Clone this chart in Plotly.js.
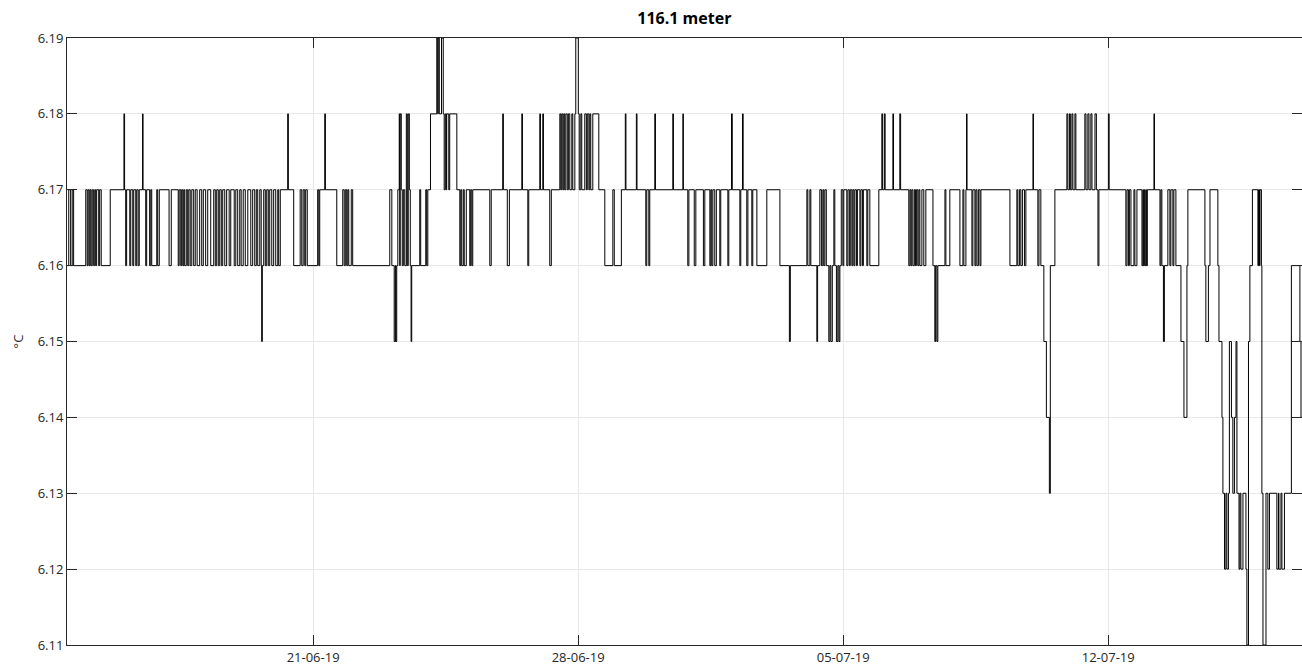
<!DOCTYPE html>
<html>
<head>
<meta charset="utf-8">
<script src="https://cdn.plot.ly/plotly-3.0.1.min.js"></script>
<style>
  html, body { margin: 0; padding: 0; background: #ffffff; }
  #chart { width: 1302px; height: 666px; }
</style>
</head>
<body>
<div id="chart"></div>
<script>
// Series start time (first sample) and step-change records
const startTime = "2019-06-14T12:00:00Z";
const axisStart = "2019-06-14 12:00";
const axisEnd = "2019-07-17 02:50";
const chartTitle = "116.1 meter";
const yTitle = "°C";

// Hours elapsed since startTime at which the temperature changed
const elapsedHours = [
  0, 1.1, 2.3, 3.3, 4.2, 11.9, 12.8, 13.4, 14.1, 14.7, 15.3, 16.0, 16.9, 17.6, 18.2, 18.8, 20.1, 20.7, 21.7, 27.4,
  36.1, 36.5, 37.2, 37.8, 39.8, 40.4, 41.7, 42.3, 43.6, 44.2, 45.1, 45.8, 47.9, 48.2, 49.9, 50.5, 52.4, 53.1, 53.7, 56.9,
  57.5, 58.5, 64.7, 66.1, 70.5, 71.1, 72.1, 72.7, 73.4, 74.0, 74.6, 75.6, 76.5, 77.2, 78.1, 79.1, 80.3, 81.3, 82.5, 84.1,
  85.4, 86.4, 87.9, 89.2, 91.1, 93.0, 94.0, 94.9, 95.9, 96.8, 97.8, 98.7, 100.0, 101.2, 102.8, 103.8, 106.0, 107.0, 108.2, 109.5,
  110.4, 111.7, 113.0, 114.6, 116.5, 117.7, 119.0, 120.0, 120.9, 122.2, 123.1, 123.4, 123.8, 124.7, 125.7, 126.6, 127.6, 128.5, 129.8, 131.0,
  132.3, 133.6, 134.2, 135.2, 139.9, 140.3, 143.7, 147.8, 148.8, 149.7, 150.7, 151.3, 152.3, 158.9, 159.6, 160.2, 163.4, 163.8, 171.0, 174.8,
  175.7, 176.4, 177.3, 178.0, 178.6, 180.2, 181.1, 204.6, 205.9, 207.4, 208.1, 208.4, 209.0, 209.7, 210.6, 210.9, 211.2, 211.9, 212.5, 213.2,
  214.1, 215.1, 215.7, 216.3, 217.0, 217.6, 218.1, 218.5, 223.6, 224.2, 227.4, 228.0, 228.7, 230.4, 234.4, 235.0, 235.3, 236.0, 237.4, 238.5,
  239.1, 239.8, 240.4, 240.7, 242.0, 242.6, 247.1, 249.0, 249.6, 250.2, 251.2, 251.8, 253.1, 255.3, 255.9, 256.6, 257.2, 268.0, 268.9, 276.2,
  276.6, 279.1, 280.4, 288.3, 288.7, 292.1, 292.7, 299.7, 300.1, 301.6, 302.0, 306.0, 307.0, 312.4, 313.0, 313.6, 314.3, 314.9, 315.5, 316.2,
  317.1, 317.8, 318.7, 320.0, 320.6, 321.9, 322.5, 324.1, 324.7, 325.7, 326.3, 328.2, 329.2, 329.8, 330.8, 331.4, 332.0, 333.3, 337.1, 340.9,
  346.0, 346.9, 351.4, 353.9, 354.3, 360.9, 361.3, 366.9, 367.5, 368.8, 369.4, 372.6, 373.0, 384.0, 384.4, 390.4, 390.7, 393.5, 394.2, 397.6,
  398.6, 403.4, 404.3, 407.5, 408.1, 408.7, 409.4, 410.6, 411.6, 413.8, 414.4, 418.9, 419.5, 421.2, 421.7, 426.5, 427.1, 428.2, 428.6, 430.9,
  431.6, 434.1, 434.7, 437.3, 443.6, 451.9, 457.9, 458.5, 469.0, 469.6, 470.9, 471.5, 475.3, 475.8, 477.2, 478.2, 479.1, 479.7, 480.4, 481.3,
  482.9, 483.6, 484.2, 485.1, 486.1, 486.7, 487.7, 488.6, 489.3, 489.9, 490.8, 491.8, 492.4, 494.3, 495.0, 495.9, 496.5, 497.5, 498.1, 498.8,
  499.4, 500.4, 501.0, 502.6, 503.2, 504.2, 504.8, 507.0, 507.6, 508.9, 514.6, 516.5, 517.0, 518.1, 518.6, 523.5, 523.9, 527.9, 528.4, 533.6,
  534.3, 534.9, 535.5, 536.2, 537.1, 537.8, 538.4, 539.3, 540.0, 540.6, 541.9, 543.1, 544.4, 548.9, 550.1, 550.6, 551.4, 552.0, 556.5, 557.1,
  559.6, 566.0, 567.9, 568.5, 569.8, 570.2, 570.5, 573.6, 574.2, 575.5, 576.1, 576.8, 577.7, 578.7, 579.3, 597.7, 602.1, 602.7, 603.7, 604.6,
  605.6, 606.9, 607.8, 612.3, 612.6, 615.4, 616.1, 617.3, 619.2, 620.8, 622.7, 623.3, 626.2, 633.8, 634.4, 635.4, 636.0, 637.0, 637.6, 638.9,
  639.5, 645.2, 645.9, 647.1, 647.8, 649.0, 649.7, 651.6, 652.5, 653.5, 654.1, 660.1, 660.6, 671.2, 671.9, 672.8, 673.4, 674.4, 676.3, 676.9,
  678.2, 681.4, 682.0, 682.3, 682.9, 683.3, 683.9, 684.2, 684.8, 689.0, 689.3, 692.8, 693.4, 694.0, 695.0, 695.6, 697.8, 699.1, 699.7, 701.0,
  701.6, 702.9, 706.1, 708.0, 709.9, 710.5, 721.3, 721.9, 723.5, 724.5, 729.5, 730.2, 732.1, 732.7, 733.7, 734.6, 735.2, 736.2, 736.8, 738.1,
  739.0, 740.0, 741.0, 741.6, 742.9, 743.5, 744.1, 745.4, 747.3, 747.9, 748.9, 749.8, 751.4, 754.9, 755.3, 755.9, 756.2, 757.1, 757.4, 758.1,
  760.0, 761.2, 762.2, 766.9, 767.9, 768.2, 769.5, 770.1, 771.7, 776.1, 781.5, 782.2, 782.8
];

// Temperature (°C) holding from each change time onward
const tempC = [
  6.16, 6.17, 6.16, 6.17, 6.16, 6.17, 6.16, 6.17, 6.16, 6.17, 6.16, 6.17, 6.16, 6.17, 6.16, 6.17, 6.16, 6.17, 6.16, 6.17,
  6.18, 6.17, 6.16, 6.17, 6.16, 6.17, 6.16, 6.17, 6.16, 6.17, 6.16, 6.17, 6.18, 6.17, 6.16, 6.17, 6.16, 6.17, 6.16, 6.17,
  6.16, 6.17, 6.16, 6.17, 6.16, 6.17, 6.16, 6.17, 6.16, 6.17, 6.16, 6.17, 6.16, 6.17, 6.16, 6.17, 6.16, 6.17, 6.16, 6.17,
  6.16, 6.17, 6.16, 6.17, 6.16, 6.17, 6.16, 6.17, 6.16, 6.17, 6.16, 6.17, 6.16, 6.17, 6.16, 6.17, 6.16, 6.17, 6.16, 6.17,
  6.16, 6.17, 6.16, 6.17, 6.16, 6.17, 6.16, 6.17, 6.16, 6.17, 6.16, 6.15, 6.16, 6.17, 6.16, 6.17, 6.16, 6.17, 6.16, 6.17,
  6.16, 6.17, 6.16, 6.17, 6.18, 6.17, 6.16, 6.17, 6.16, 6.17, 6.16, 6.17, 6.16, 6.17, 6.16, 6.17, 6.18, 6.17, 6.16, 6.17,
  6.16, 6.17, 6.16, 6.17, 6.16, 6.17, 6.16, 6.17, 6.16, 6.15, 6.16, 6.15, 6.16, 6.17, 6.18, 6.16, 6.18, 6.17, 6.16, 6.17,
  6.16, 6.18, 6.16, 6.18, 6.17, 6.16, 6.15, 6.16, 6.17, 6.16, 6.17, 6.16, 6.17, 6.18, 6.19, 6.18, 6.19, 6.18, 6.19, 6.18,
  6.17, 6.18, 6.17, 6.18, 6.17, 6.18, 6.17, 6.16, 6.17, 6.16, 6.17, 6.16, 6.17, 6.16, 6.17, 6.16, 6.17, 6.16, 6.17, 6.18,
  6.17, 6.16, 6.17, 6.18, 6.17, 6.16, 6.17, 6.18, 6.17, 6.18, 6.17, 6.16, 6.17, 6.18, 6.17, 6.18, 6.17, 6.18, 6.17, 6.18,
  6.17, 6.18, 6.17, 6.18, 6.17, 6.18, 6.19, 6.18, 6.17, 6.18, 6.17, 6.18, 6.17, 6.18, 6.17, 6.18, 6.17, 6.18, 6.17, 6.16,
  6.17, 6.16, 6.17, 6.18, 6.17, 6.18, 6.17, 6.16, 6.17, 6.16, 6.17, 6.18, 6.17, 6.18, 6.17, 6.18, 6.17, 6.16, 6.17, 6.16,
  6.17, 6.16, 6.17, 6.16, 6.17, 6.16, 6.17, 6.16, 6.17, 6.16, 6.17, 6.16, 6.17, 6.18, 6.17, 6.16, 6.17, 6.18, 6.17, 6.16,
  6.17, 6.16, 6.17, 6.16, 6.17, 6.16, 6.15, 6.16, 6.17, 6.16, 6.17, 6.16, 6.15, 6.16, 6.17, 6.16, 6.17, 6.16, 6.17, 6.16,
  6.15, 6.16, 6.15, 6.16, 6.17, 6.16, 6.15, 6.16, 6.15, 6.16, 6.17, 6.16, 6.17, 6.16, 6.17, 6.16, 6.17, 6.16, 6.17, 6.16,
  6.17, 6.16, 6.17, 6.16, 6.17, 6.16, 6.17, 6.16, 6.17, 6.16, 6.17, 6.18, 6.17, 6.18, 6.17, 6.18, 6.17, 6.18, 6.17, 6.16,
  6.17, 6.16, 6.17, 6.16, 6.17, 6.16, 6.17, 6.16, 6.17, 6.16, 6.17, 6.16, 6.17, 6.16, 6.15, 6.16, 6.15, 6.16, 6.17, 6.16,
  6.17, 6.16, 6.17, 6.16, 6.17, 6.18, 6.17, 6.16, 6.17, 6.16, 6.17, 6.16, 6.17, 6.16, 6.17, 6.16, 6.17, 6.16, 6.17, 6.16,
  6.17, 6.16, 6.17, 6.18, 6.17, 6.16, 6.17, 6.16, 6.15, 6.14, 6.13, 6.16, 6.17, 6.18, 6.17, 6.18, 6.17, 6.18, 6.17, 6.18,
  6.17, 6.18, 6.17, 6.18, 6.17, 6.18, 6.17, 6.18, 6.17, 6.16, 6.17, 6.18, 6.17, 6.16, 6.17, 6.16, 6.17, 6.16, 6.17, 6.16,
  6.17, 6.16, 6.17, 6.16, 6.17, 6.16, 6.17, 6.16, 6.17, 6.18, 6.17, 6.16, 6.17, 6.16, 6.15, 6.16, 6.17, 6.16, 6.17, 6.16,
  6.17, 6.16, 6.15, 6.14, 6.16, 6.17, 6.16, 6.15, 6.16, 6.17, 6.16, 6.15, 6.14, 6.13, 6.12, 6.13, 6.12, 6.13, 6.15, 6.14,
  6.13, 6.14, 6.15, 6.13, 6.12, 6.13, 6.12, 6.13, 6.12, 6.11, 6.15, 6.16, 6.17, 6.16, 6.17, 6.16, 6.17, 6.16, 6.13, 6.11,
  6.13, 6.12, 6.13, 6.12, 6.13, 6.12, 6.13, 6.12, 6.13, 6.16, 6.15, 6.14, 6.14
];

const yTickVals = [6.11, 6.12, 6.13, 6.14, 6.15, 6.16, 6.17, 6.18, 6.19];
const xTickVals = ["2019-06-21", "2019-06-28", "2019-07-05", "2019-07-12"];
const xTickText = ["21-06-19", "28-06-19", "05-07-19", "12-07-19"];

const t0 = Date.parse(startTime);
const xTimes = elapsedHours.map(h => t0 + h * 3600000);

const trace = {
  type: "scatter",
  mode: "lines",
  x: xTimes,
  y: tempC,
  line: { color: "#000000", width: 1, shape: "hv" },
  hoverinfo: "x+y"
};

const fontFamily = "Open Sans, DejaVu Sans, sans-serif";
const axisFont = { family: fontFamily, size: 13, color: "#262626" };

const layout = {
  width: 1302,
  height: 666,
  margin: { l: 67, r: 0, t: 38, b: 21, pad: 0 },
  paper_bgcolor: "#ffffff",
  plot_bgcolor: "#ffffff",
  showlegend: false,
  title: {
    text: "<b>" + chartTitle + "</b>",
    font: { family: fontFamily, size: 16, color: "#000000" },
    x: 0.5256, xanchor: "center",
    y: 0.972, yanchor: "middle"
  },
  xaxis: {
    type: "date",
    range: [axisStart, axisEnd],
    tickvals: xTickVals,
    ticktext: xTickText,
    ticks: "inside",
    ticklen: 10,
    tickcolor: "#262626",
    tickwidth: 1,
    showline: true,
    linecolor: "#262626",
    linewidth: 1,
    mirror: "ticks",
    showgrid: true,
    gridcolor: "#e8e8e8",
    gridwidth: 1,
    zeroline: false,
    tickfont: axisFont,
    fixedrange: true
  },
  yaxis: {
    range: [6.11, 6.19],
    tickvals: yTickVals,
    tickformat: ".2f",
    ticks: "inside",
    ticklen: 10,
    tickcolor: "#262626",
    tickwidth: 1,
    showline: true,
    linecolor: "#262626",
    linewidth: 1,
    mirror: "ticks",
    showgrid: true,
    gridcolor: "#e8e8e8",
    gridwidth: 1,
    zeroline: false,
    tickfont: axisFont,
    title: { text: yTitle, font: { family: fontFamily, size: 13, color: "#262626" }, standoff: 11 },
    fixedrange: true
  }
};

Plotly.newPlot("chart", [trace], layout, { displayModeBar: false, staticPlot: true });
</script>
</body>
</html>
